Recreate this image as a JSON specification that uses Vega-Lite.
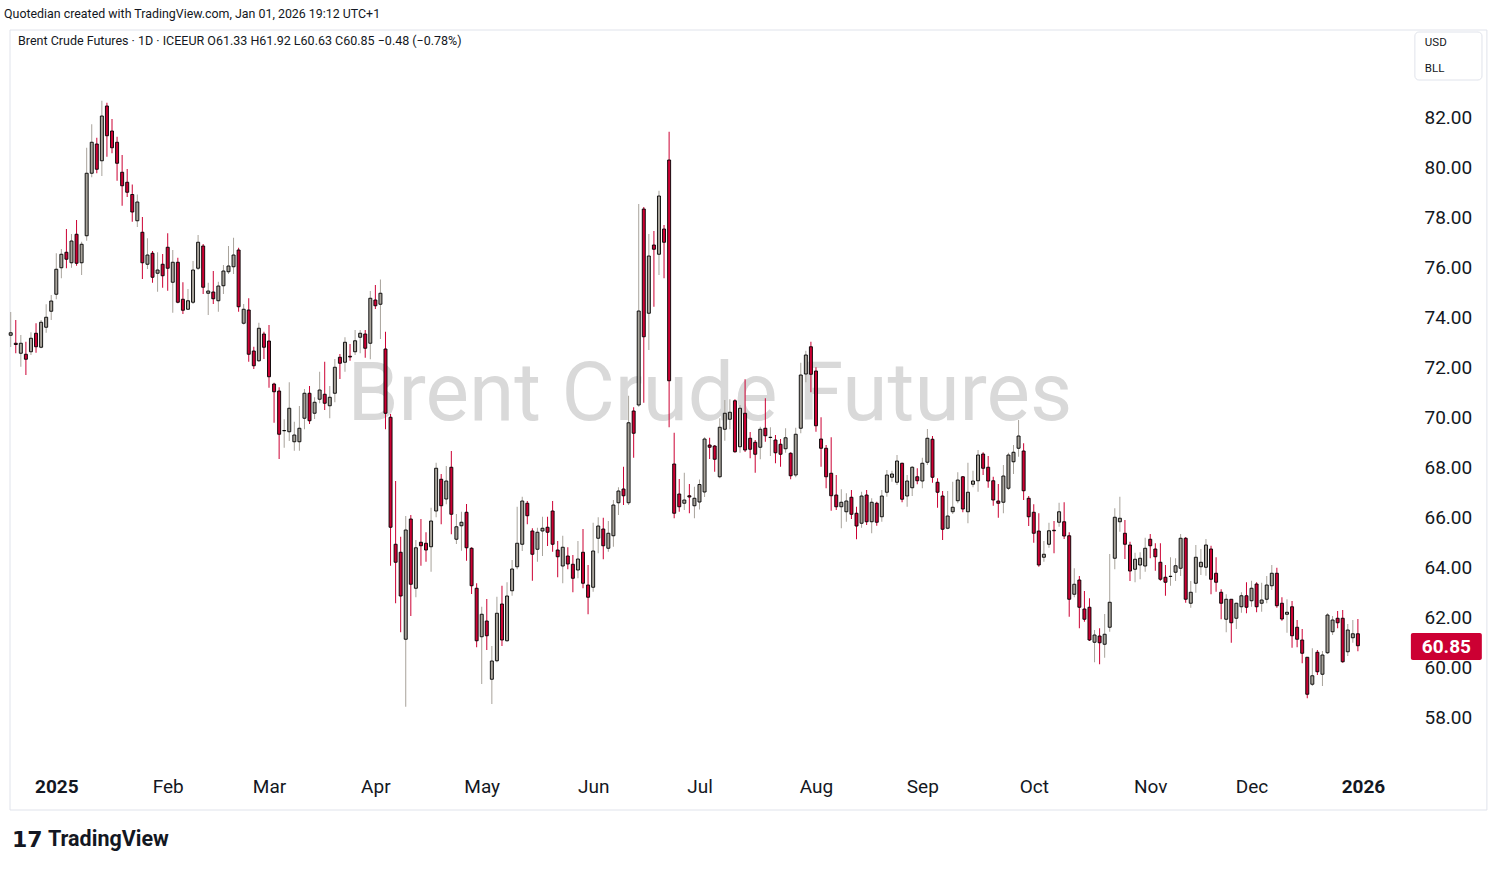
{
  "$schema": "https://vega.github.io/schema/vega-lite/v6.json",
  "width": 1395,
  "height": 740,
  "autosize": {"type": "none"},
  "padding": {"left": 10, "top": 30, "right": 92, "bottom": 101},
  "background": "#ffffff",
  "config": {"view": {"stroke": null}, "font": "Roboto"},
  "datasets": {
    "candles": [
      {"i":0,"o":73.27,"h":74.2,"l":72.8,"c":73.37},
      {"i":1,"o":72.95,"h":73.88,"l":72.55,"c":72.9},
      {"i":2,"o":72.55,"h":73.28,"l":72.01,"c":72.95},
      {"i":3,"o":72.51,"h":73.01,"l":71.68,"c":72.31},
      {"i":4,"o":72.61,"h":73.39,"l":72.48,"c":73.15},
      {"i":5,"o":73.35,"h":73.75,"l":72.57,"c":72.81},
      {"i":6,"o":72.79,"h":73.88,"l":72.75,"c":73.79},
      {"i":7,"o":73.59,"h":74.51,"l":73.37,"c":73.99},
      {"i":8,"o":74.23,"h":74.88,"l":73.88,"c":74.64},
      {"i":9,"o":74.91,"h":76.55,"l":74.71,"c":75.91},
      {"i":10,"o":75.97,"h":76.72,"l":75.55,"c":76.51},
      {"i":11,"o":76.59,"h":77.52,"l":75.95,"c":76.31},
      {"i":12,"o":76.17,"h":77.32,"l":75.97,"c":77.04},
      {"i":13,"o":77.31,"h":77.88,"l":76.05,"c":76.15},
      {"i":14,"o":76.17,"h":77.01,"l":75.68,"c":76.91},
      {"i":15,"o":77.25,"h":80.77,"l":77.05,"c":79.75},
      {"i":16,"o":79.75,"h":81.71,"l":79.59,"c":80.99},
      {"i":17,"o":80.92,"h":81.17,"l":79.75,"c":79.91},
      {"i":18,"o":80.25,"h":82.65,"l":79.64,"c":82.04},
      {"i":19,"o":82.44,"h":82.57,"l":80.41,"c":81.25},
      {"i":20,"o":81.44,"h":81.92,"l":80.55,"c":80.77},
      {"i":21,"o":80.99,"h":81.21,"l":79.45,"c":80.15},
      {"i":22,"o":79.79,"h":80.48,"l":78.45,"c":79.25},
      {"i":23,"o":79.39,"h":79.92,"l":78.8,"c":78.99},
      {"i":24,"o":78.9,"h":79.3,"l":77.81,"c":78.2},
      {"i":25,"o":77.85,"h":78.9,"l":77.6,"c":78.6},
      {"i":26,"o":77.39,"h":78.0,"l":75.52,"c":76.17},
      {"i":27,"o":76.11,"h":77.15,"l":75.92,"c":76.48},
      {"i":28,"o":76.55,"h":76.64,"l":75.37,"c":75.59},
      {"i":29,"o":75.75,"h":76.59,"l":75.01,"c":75.88},
      {"i":30,"o":76.11,"h":76.52,"l":75.17,"c":75.65},
      {"i":31,"o":76.79,"h":77.35,"l":75.05,"c":75.95},
      {"i":32,"o":75.39,"h":76.68,"l":74.17,"c":76.19},
      {"i":33,"o":76.19,"h":76.37,"l":74.55,"c":74.59},
      {"i":34,"o":74.71,"h":75.39,"l":74.12,"c":74.27},
      {"i":35,"o":74.31,"h":75.12,"l":74.28,"c":74.65},
      {"i":36,"o":74.59,"h":76.24,"l":74.52,"c":75.88},
      {"i":37,"o":75.95,"h":77.28,"l":75.88,"c":76.99},
      {"i":38,"o":76.84,"h":76.92,"l":74.92,"c":75.19},
      {"i":39,"o":74.95,"h":75.37,"l":74.08,"c":75.04},
      {"i":40,"o":75.0,"h":75.84,"l":74.52,"c":74.73},
      {"i":41,"o":74.65,"h":75.41,"l":74.21,"c":75.24},
      {"i":42,"o":75.25,"h":76.08,"l":74.92,"c":75.84},
      {"i":43,"o":75.81,"h":76.84,"l":75.72,"c":76.04},
      {"i":44,"o":76.01,"h":77.17,"l":75.72,"c":76.48},
      {"i":45,"o":76.68,"h":76.77,"l":74.21,"c":74.41},
      {"i":46,"o":73.75,"h":74.52,"l":73.7,"c":74.31},
      {"i":47,"o":74.28,"h":74.75,"l":72.21,"c":72.51},
      {"i":48,"o":72.64,"h":72.81,"l":71.92,"c":72.05},
      {"i":49,"o":72.25,"h":73.77,"l":72.2,"c":73.55},
      {"i":50,"o":73.32,"h":73.41,"l":72.32,"c":72.79},
      {"i":51,"o":73.04,"h":73.68,"l":71.17,"c":71.61},
      {"i":52,"o":71.32,"h":71.37,"l":69.77,"c":71.01},
      {"i":53,"o":71.04,"h":71.19,"l":68.32,"c":69.31},
      {"i":54,"o":69.45,"h":69.91,"l":68.77,"c":69.46},
      {"i":55,"o":69.41,"h":71.39,"l":69.04,"c":70.35},
      {"i":56,"o":69.01,"h":69.81,"l":68.65,"c":69.28},
      {"i":57,"o":69.01,"h":70.44,"l":68.65,"c":69.55},
      {"i":58,"o":69.95,"h":71.12,"l":69.51,"c":70.95},
      {"i":59,"o":70.95,"h":71.24,"l":69.72,"c":69.85},
      {"i":60,"o":70.15,"h":70.79,"l":69.92,"c":70.59},
      {"i":61,"o":70.71,"h":71.81,"l":70.55,"c":71.08},
      {"i":62,"o":70.91,"h":72.21,"l":70.28,"c":70.55},
      {"i":63,"o":70.45,"h":71.24,"l":69.95,"c":70.79},
      {"i":64,"o":70.95,"h":72.32,"l":70.59,"c":71.99},
      {"i":65,"o":72.39,"h":72.52,"l":71.52,"c":72.15},
      {"i":66,"o":72.19,"h":73.19,"l":71.81,"c":72.99},
      {"i":67,"o":72.43,"h":72.92,"l":72.25,"c":72.4},
      {"i":68,"o":72.61,"h":73.48,"l":72.48,"c":73.05},
      {"i":69,"o":73.19,"h":73.48,"l":72.55,"c":73.35},
      {"i":70,"o":73.32,"h":73.48,"l":72.37,"c":72.75},
      {"i":71,"o":72.95,"h":75.04,"l":72.31,"c":74.75},
      {"i":72,"o":74.68,"h":75.28,"l":74.32,"c":74.45},
      {"i":73,"o":74.51,"h":75.5,"l":73.12,"c":74.95},
      {"i":74,"o":72.72,"h":73.41,"l":69.51,"c":70.15},
      {"i":75,"o":69.99,"h":70.12,"l":64.05,"c":65.59},
      {"i":76,"o":64.91,"h":67.44,"l":62.55,"c":64.19},
      {"i":77,"o":64.59,"h":65.21,"l":61.39,"c":62.84},
      {"i":78,"o":61.11,"h":66.04,"l":58.41,"c":65.48},
      {"i":79,"o":65.92,"h":66.08,"l":62.04,"c":63.31},
      {"i":80,"o":63.15,"h":65.08,"l":62.79,"c":64.77},
      {"i":81,"o":64.99,"h":65.92,"l":64.05,"c":64.85},
      {"i":82,"o":64.95,"h":65.39,"l":64.21,"c":64.68},
      {"i":83,"o":64.81,"h":66.37,"l":63.81,"c":65.84},
      {"i":84,"o":66.24,"h":68.17,"l":65.99,"c":67.95},
      {"i":85,"o":67.51,"h":67.72,"l":65.71,"c":66.45},
      {"i":86,"o":66.72,"h":68.04,"l":66.51,"c":67.44},
      {"i":87,"o":67.99,"h":68.64,"l":65.31,"c":66.11},
      {"i":88,"o":65.11,"h":66.12,"l":64.92,"c":65.61},
      {"i":89,"o":65.65,"h":66.21,"l":64.65,"c":65.79},
      {"i":90,"o":66.19,"h":66.52,"l":64.25,"c":64.77},
      {"i":91,"o":64.75,"h":64.79,"l":62.92,"c":63.25},
      {"i":92,"o":63.15,"h":63.35,"l":60.79,"c":61.05},
      {"i":93,"o":61.21,"h":62.41,"l":59.32,"c":62.11},
      {"i":94,"o":61.84,"h":62.72,"l":60.68,"c":61.25},
      {"i":95,"o":59.51,"h":60.84,"l":58.52,"c":60.24},
      {"i":96,"o":60.25,"h":62.81,"l":60.19,"c":62.15},
      {"i":97,"o":62.52,"h":63.25,"l":60.84,"c":61.08},
      {"i":98,"o":61.05,"h":63.39,"l":61.01,"c":62.84},
      {"i":99,"o":63.05,"h":64.28,"l":62.85,"c":63.92},
      {"i":100,"o":64.01,"h":66.41,"l":63.91,"c":64.95},
      {"i":101,"o":64.91,"h":66.81,"l":64.64,"c":66.64},
      {"i":102,"o":66.55,"h":66.64,"l":65.71,"c":66.05},
      {"i":103,"o":65.44,"h":65.55,"l":63.45,"c":64.51},
      {"i":104,"o":64.71,"h":65.57,"l":64.21,"c":65.39},
      {"i":105,"o":65.44,"h":66.01,"l":64.44,"c":65.55},
      {"i":106,"o":65.59,"h":66.01,"l":64.84,"c":65.39},
      {"i":107,"o":66.24,"h":66.64,"l":64.61,"c":64.91},
      {"i":108,"o":64.68,"h":65.04,"l":63.59,"c":64.41},
      {"i":109,"o":64.04,"h":65.25,"l":63.35,"c":64.79},
      {"i":110,"o":64.44,"h":64.79,"l":63.91,"c":64.12},
      {"i":111,"o":64.11,"h":64.48,"l":62.99,"c":63.55},
      {"i":112,"o":63.88,"h":65.04,"l":63.55,"c":64.32},
      {"i":113,"o":64.59,"h":65.52,"l":63.15,"c":63.35},
      {"i":114,"o":63.28,"h":64.08,"l":62.11,"c":62.79},
      {"i":115,"o":63.19,"h":65.77,"l":63.01,"c":64.64},
      {"i":116,"o":65.15,"h":65.99,"l":64.55,"c":65.64},
      {"i":117,"o":65.52,"h":65.97,"l":64.31,"c":64.85},
      {"i":118,"o":64.75,"h":65.84,"l":64.61,"c":65.35},
      {"i":119,"o":65.25,"h":66.68,"l":64.81,"c":66.48},
      {"i":120,"o":66.57,"h":67.19,"l":66.08,"c":67.04},
      {"i":121,"o":67.12,"h":68.01,"l":66.48,"c":66.85},
      {"i":122,"o":66.57,"h":70.85,"l":66.48,"c":69.77},
      {"i":123,"o":70.24,"h":70.39,"l":68.37,"c":69.35},
      {"i":124,"o":70.48,"h":78.52,"l":70.41,"c":74.24},
      {"i":125,"o":78.32,"h":78.4,"l":70.57,"c":73.21},
      {"i":126,"o":74.15,"h":77.32,"l":72.68,"c":76.44},
      {"i":127,"o":76.88,"h":77.44,"l":74.41,"c":76.71},
      {"i":128,"o":76.51,"h":79.05,"l":75.68,"c":78.84},
      {"i":129,"o":77.52,"h":77.68,"l":75.55,"c":76.99},
      {"i":130,"o":80.28,"h":81.41,"l":69.59,"c":71.45},
      {"i":131,"o":68.12,"h":69.37,"l":65.95,"c":66.15},
      {"i":132,"o":66.92,"h":67.52,"l":66.21,"c":66.41},
      {"i":133,"o":66.55,"h":67.77,"l":66.28,"c":66.68},
      {"i":134,"o":66.85,"h":67.32,"l":66.15,"c":66.8},
      {"i":135,"o":66.45,"h":67.21,"l":65.95,"c":66.75},
      {"i":136,"o":66.6,"h":67.5,"l":66.3,"c":67.3},
      {"i":137,"o":67.0,"h":69.19,"l":66.8,"c":69.12},
      {"i":138,"o":68.88,"h":69.17,"l":68.32,"c":68.79},
      {"i":139,"o":68.84,"h":68.88,"l":67.81,"c":68.31},
      {"i":140,"o":67.61,"h":69.95,"l":67.55,"c":69.59},
      {"i":141,"o":69.51,"h":70.68,"l":69.05,"c":70.15},
      {"i":142,"o":69.91,"h":70.71,"l":69.51,"c":70.19},
      {"i":143,"o":70.65,"h":70.71,"l":68.57,"c":68.61},
      {"i":144,"o":68.81,"h":70.48,"l":68.57,"c":70.35},
      {"i":145,"o":70.15,"h":71.51,"l":68.6,"c":68.68},
      {"i":146,"o":69.15,"h":69.4,"l":68.35,"c":68.71},
      {"i":147,"o":68.99,"h":69.08,"l":67.77,"c":68.51},
      {"i":148,"o":68.79,"h":69.61,"l":68.31,"c":69.51},
      {"i":149,"o":69.55,"h":70.75,"l":69.01,"c":69.25},
      {"i":150,"o":69.18,"h":69.59,"l":68.44,"c":69.19},
      {"i":151,"o":69.08,"h":69.28,"l":68.15,"c":68.57},
      {"i":152,"o":68.91,"h":69.12,"l":68.01,"c":68.51},
      {"i":153,"o":68.73,"h":69.55,"l":68.57,"c":69.17},
      {"i":154,"o":68.55,"h":68.59,"l":67.51,"c":67.65},
      {"i":155,"o":67.68,"h":69.57,"l":67.59,"c":69.31},
      {"i":156,"o":69.55,"h":72.17,"l":69.35,"c":71.68},
      {"i":157,"o":71.72,"h":72.65,"l":71.39,"c":72.48},
      {"i":158,"o":72.81,"h":73.01,"l":70.99,"c":71.71},
      {"i":159,"o":71.84,"h":71.99,"l":69.41,"c":69.65},
      {"i":160,"o":69.12,"h":69.99,"l":68.01,"c":68.75},
      {"i":161,"o":68.75,"h":68.88,"l":67.15,"c":67.61},
      {"i":162,"o":67.75,"h":69.19,"l":66.25,"c":66.85},
      {"i":163,"o":66.88,"h":67.68,"l":66.28,"c":66.41},
      {"i":164,"o":66.41,"h":67.11,"l":65.55,"c":66.59},
      {"i":165,"o":66.21,"h":66.95,"l":65.81,"c":66.64},
      {"i":166,"o":66.79,"h":67.08,"l":65.92,"c":66.11},
      {"i":167,"o":66.15,"h":66.41,"l":65.11,"c":65.64},
      {"i":168,"o":65.75,"h":67.01,"l":65.57,"c":66.84},
      {"i":169,"o":66.88,"h":67.08,"l":65.68,"c":65.81},
      {"i":170,"o":65.81,"h":66.75,"l":65.35,"c":66.59},
      {"i":171,"o":66.55,"h":66.61,"l":65.65,"c":65.79},
      {"i":172,"o":66.01,"h":67.08,"l":65.81,"c":66.84},
      {"i":173,"o":66.99,"h":67.88,"l":66.81,"c":67.68},
      {"i":174,"o":67.59,"h":67.85,"l":67.41,"c":67.72},
      {"i":175,"o":67.39,"h":68.48,"l":67.28,"c":68.24},
      {"i":176,"o":68.15,"h":68.17,"l":66.59,"c":66.71},
      {"i":177,"o":66.84,"h":67.68,"l":66.41,"c":67.44},
      {"i":178,"o":67.17,"h":68.04,"l":66.84,"c":67.99},
      {"i":179,"o":67.61,"h":67.95,"l":67.31,"c":67.45},
      {"i":180,"o":67.44,"h":68.37,"l":67.15,"c":68.15},
      {"i":181,"o":68.19,"h":69.52,"l":68.08,"c":69.15},
      {"i":182,"o":69.11,"h":69.24,"l":67.37,"c":67.59},
      {"i":183,"o":67.39,"h":67.55,"l":66.37,"c":66.99},
      {"i":184,"o":66.84,"h":67.04,"l":65.08,"c":65.51},
      {"i":185,"o":65.55,"h":67.04,"l":65.51,"c":66.04},
      {"i":186,"o":66.21,"h":67.41,"l":66.12,"c":66.39},
      {"i":187,"o":66.65,"h":67.79,"l":66.55,"c":67.48},
      {"i":188,"o":67.61,"h":67.64,"l":66.19,"c":66.32},
      {"i":189,"o":66.21,"h":68.17,"l":65.75,"c":66.99},
      {"i":190,"o":67.31,"h":67.85,"l":67.19,"c":67.44},
      {"i":191,"o":67.45,"h":68.68,"l":67.01,"c":68.48},
      {"i":192,"o":68.52,"h":68.59,"l":67.68,"c":67.95},
      {"i":193,"o":67.99,"h":68.44,"l":67.17,"c":67.44},
      {"i":194,"o":67.45,"h":67.61,"l":66.45,"c":66.68},
      {"i":195,"o":66.64,"h":67.32,"l":65.97,"c":66.55},
      {"i":196,"o":66.59,"h":68.08,"l":66.15,"c":67.64},
      {"i":197,"o":67.15,"h":68.57,"l":67.08,"c":68.48},
      {"i":198,"o":68.21,"h":68.88,"l":67.72,"c":68.59},
      {"i":199,"o":68.75,"h":69.88,"l":68.41,"c":69.24},
      {"i":200,"o":68.64,"h":68.95,"l":66.68,"c":67.05},
      {"i":201,"o":66.75,"h":66.84,"l":65.64,"c":66.01},
      {"i":202,"o":66.19,"h":66.51,"l":64.97,"c":65.35},
      {"i":203,"o":65.44,"h":66.15,"l":64.01,"c":64.08},
      {"i":204,"o":64.39,"h":65.04,"l":64.21,"c":64.51},
      {"i":205,"o":64.91,"h":65.77,"l":64.77,"c":65.45},
      {"i":206,"o":65.47,"h":65.84,"l":64.55,"c":65.45},
      {"i":207,"o":65.79,"h":66.57,"l":65.61,"c":66.21},
      {"i":208,"o":65.81,"h":66.59,"l":65.12,"c":65.24},
      {"i":209,"o":65.25,"h":65.39,"l":62.01,"c":62.71},
      {"i":210,"o":62.91,"h":63.95,"l":62.79,"c":63.31},
      {"i":211,"o":63.48,"h":63.64,"l":61.55,"c":62.39},
      {"i":212,"o":62.32,"h":63.04,"l":61.81,"c":61.91},
      {"i":213,"o":62.39,"h":62.75,"l":61.04,"c":61.08},
      {"i":214,"o":60.99,"h":61.48,"l":60.19,"c":61.28},
      {"i":215,"o":61.24,"h":61.55,"l":60.11,"c":60.97},
      {"i":216,"o":60.91,"h":62.12,"l":60.37,"c":61.31},
      {"i":217,"o":61.59,"h":64.52,"l":61.41,"c":62.59},
      {"i":218,"o":64.35,"h":66.35,"l":63.91,"c":65.99},
      {"i":219,"o":65.81,"h":66.81,"l":65.41,"c":65.95},
      {"i":220,"o":65.35,"h":65.88,"l":64.32,"c":64.91},
      {"i":221,"o":64.88,"h":65.01,"l":63.44,"c":63.84},
      {"i":222,"o":63.91,"h":64.57,"l":63.39,"c":64.31},
      {"i":223,"o":64.08,"h":64.59,"l":63.51,"c":64.35},
      {"i":224,"o":64.04,"h":65.17,"l":63.81,"c":64.75},
      {"i":225,"o":65.11,"h":65.32,"l":64.35,"c":64.85},
      {"i":226,"o":64.72,"h":64.95,"l":63.85,"c":64.41},
      {"i":227,"o":64.19,"h":64.95,"l":63.45,"c":63.51},
      {"i":228,"o":63.59,"h":64.08,"l":62.85,"c":63.39},
      {"i":229,"o":63.62,"h":64.39,"l":63.25,"c":63.63},
      {"i":230,"o":63.79,"h":64.35,"l":63.44,"c":64.05},
      {"i":231,"o":63.95,"h":65.32,"l":63.64,"c":65.15},
      {"i":232,"o":65.15,"h":65.2,"l":62.57,"c":62.71},
      {"i":233,"o":62.55,"h":63.44,"l":62.37,"c":62.99},
      {"i":234,"o":63.35,"h":64.88,"l":62.97,"c":64.39},
      {"i":235,"o":64.01,"h":64.72,"l":63.68,"c":64.19},
      {"i":236,"o":63.99,"h":65.12,"l":63.65,"c":64.88},
      {"i":237,"o":64.72,"h":64.85,"l":62.91,"c":63.51},
      {"i":238,"o":63.75,"h":64.39,"l":63.01,"c":63.39},
      {"i":239,"o":62.99,"h":63.11,"l":61.91,"c":62.55},
      {"i":240,"o":61.91,"h":62.91,"l":61.39,"c":62.71},
      {"i":241,"o":62.71,"h":62.71,"l":60.97,"c":61.77},
      {"i":242,"o":61.95,"h":62.57,"l":61.52,"c":62.55},
      {"i":243,"o":62.41,"h":62.99,"l":62.17,"c":62.85},
      {"i":244,"o":62.85,"h":63.39,"l":62.15,"c":62.39},
      {"i":245,"o":62.65,"h":63.45,"l":62.41,"c":63.15},
      {"i":246,"o":63.32,"h":63.39,"l":62.19,"c":62.41},
      {"i":247,"o":62.55,"h":63.37,"l":62.21,"c":62.68},
      {"i":248,"o":62.71,"h":63.64,"l":62.55,"c":63.28},
      {"i":249,"o":63.25,"h":64.08,"l":63.08,"c":63.75},
      {"i":250,"o":63.75,"h":63.97,"l":62.37,"c":62.45},
      {"i":251,"o":62.55,"h":62.79,"l":61.85,"c":61.92},
      {"i":252,"o":62.11,"h":62.71,"l":61.37,"c":62.19},
      {"i":253,"o":62.41,"h":62.64,"l":60.77,"c":61.25},
      {"i":254,"o":61.59,"h":61.88,"l":60.79,"c":61.11},
      {"i":255,"o":61.08,"h":61.52,"l":60.15,"c":60.55},
      {"i":256,"o":60.39,"h":60.39,"l":58.75,"c":58.91},
      {"i":257,"o":59.31,"h":60.75,"l":59.24,"c":59.65},
      {"i":258,"o":60.59,"h":60.68,"l":59.68,"c":59.81},
      {"i":259,"o":59.71,"h":60.64,"l":59.24,"c":60.48},
      {"i":260,"o":60.57,"h":62.15,"l":60.52,"c":62.08},
      {"i":261,"o":61.41,"h":62.04,"l":61.28,"c":61.88},
      {"i":262,"o":61.95,"h":62.24,"l":61.55,"c":61.77},
      {"i":263,"o":61.95,"h":62.28,"l":60.17,"c":60.21},
      {"i":264,"o":60.61,"h":61.72,"l":60.44,"c":61.48},
      {"i":265,"o":61.17,"h":61.88,"l":60.97,"c":61.33},
      {"i":266,"o":61.33,"h":61.92,"l":60.63,"c":60.85}
    ]
  },
  "layer": [
    {
      "data": {"values": [{"t": "frame"}]},
      "mark": {"type": "rect", "fillOpacity": 0, "stroke": "#e0e3eb", "strokeWidth": 1},
      "encoding": {
        "x": {"datum": -0.14, "type": "quantitative", "scale": {"domain": [-0.14, 275.3], "nice": false, "zero": false, "padding": 0}, "axis": {
          "orient": "bottom", "values": [9, 31, 51, 72, 93, 115, 136, 159, 180, 202, 225, 245, 267],
          "labelExpr": "datum.value==9?'2025':datum.value==31?'Feb':datum.value==51?'Mar':datum.value==72?'Apr':datum.value==93?'May':datum.value==115?'Jun':datum.value==136?'Jul':datum.value==159?'Aug':datum.value==180?'Sep':datum.value==202?'Oct':datum.value==225?'Nov':datum.value==245?'Dec':'2026'",
          "labelFontWeight": {"condition": {"test": "datum.value == 9 || datum.value == 267", "value": "bold"}, "value": "normal"},
          "grid": false, "domain": false, "ticks": false, "labelFlush": false, "labelOverlap": false,
          "labelFontSize": 19, "labelColor": "#131722", "labelPadding": 7, "title": null
        }},
        "x2": {"datum": 291.47},
        "y": {"datum": 85.48, "type": "quantitative", "scale": {"domain": [55.88, 85.48], "nice": false, "zero": false, "padding": 0}, "axis": {
          "orient": "right", "values": [58, 60, 62, 64, 66, 68, 70, 72, 74, 76, 78, 80, 82], "format": ".2f",
          "grid": false, "domain": false, "ticks": false, "labelFontSize": 19, "labelColor": "#131722",
          "labelPadding": 19, "labelAlign": "left", "title": null
        }},
        "y2": {"datum": 54.28}
      }
    },
    {
      "data": {"values": [{"t": "Brent Crude Futures"}]},
      "mark": {"type": "text", "fontSize": 82, "color": "#d9d9d9", "align": "center", "baseline": "middle"},
      "encoding": {"x": {"datum": 138.06}, "y": {"datum": 70.88}, "text": {"field": "t"}}
    },
    {
      "data": {"name": "candles"},
      "mark": {"type": "rule", "strokeWidth": 1},
      "encoding": {
        "x": {"field": "i", "type": "quantitative"},
        "y": {"field": "l", "type": "quantitative"},
        "y2": {"field": "h"},
        "color": {"condition": {"test": "datum.c < datum.o", "value": "#cc0033"}, "value": "#a8a39b"}
      }
    },
    {
      "data": {"name": "candles"},
      "mark": {"type": "bar", "width": 3, "stroke": "#000000", "strokeWidth": 0.9},
      "encoding": {
        "x": {"field": "i", "type": "quantitative"},
        "y": {"field": "o", "type": "quantitative"},
        "y2": {"field": "c"},
        "fill": {"condition": {"test": "datum.c < datum.o", "value": "#cc0033"}, "value": "#a8a39b"}
      }
    },
    {
      "data": {"values": [{"t": "Brent Crude Futures · 1D · ICEEUR  O61.33 H61.92 L60.63 C60.85 −0.48 (−0.78%)"}]},
      "mark": {"type": "text", "fontSize": 12.5, "color": "#131722", "align": "left", "baseline": "middle"},
      "encoding": {"x": {"datum": 1.44}, "y": {"datum": 85.04}, "text": {"field": "t"}}
    },
    {
      "data": {"values": [{"t": "Quotedian created with TradingView.com, Jan 01, 2026 19:12 UTC+1"}]},
      "mark": {"type": "text", "fontSize": 12.4, "color": "#131722", "align": "left", "baseline": "middle"},
      "encoding": {"x": {"datum": -1.32}, "y": {"datum": 86.12}, "text": {"field": "t"}}
    },
    {
      "data": {"values": [{"t": "box"}]},
      "mark": {"type": "rect", "fill": "#ffffff", "stroke": "#e0e3eb", "strokeWidth": 1, "cornerRadius": 4},
      "encoding": {"x": {"datum": 277.25}, "x2": {"datum": 290.5}, "y": {"datum": 85.4}, "y2": {"datum": 83.48}}
    },
    {
      "data": {"values": [{"t": "USD", "p": 84.96}, {"t": "BLL", "p": 83.92}]},
      "mark": {"type": "text", "fontSize": 11.5, "color": "#131722", "align": "left", "baseline": "middle"},
      "encoding": {"x": {"datum": 279.22}, "y": {"field": "p", "type": "quantitative"}, "text": {"field": "t"}}
    },
    {
      "data": {"values": [{"t": "last"}]},
      "mark": {"type": "rect", "fill": "#cc0033", "cornerRadius": 2},
      "encoding": {"x": {"datum": 276.46}, "x2": {"datum": 290.47}, "y": {"datum": 61.36}, "y2": {"datum": 60.28}}
    },
    {
      "data": {"values": [{"t": "60.85", "p": 60.82}]},
      "mark": {"type": "text", "fontSize": 19, "fontWeight": "bold", "color": "#ffffff", "align": "center", "baseline": "middle"},
      "encoding": {"x": {"datum": 283.47}, "y": {"field": "p", "type": "quantitative"}, "text": {"field": "t"}}
    },
    {
      "data": {"values": [{"t": "17"}]},
      "mark": {"type": "text", "font": "DejaVu Sans", "fontSize": 22, "fontWeight": "bold", "color": "#131722", "align": "left", "baseline": "middle"},
      "encoding": {"x": {"datum": 0.26}, "y": {"datum": 53.08}, "text": {"field": "t"}}
    },
    {
      "data": {"values": [{"t": "TradingView"}]},
      "mark": {"type": "text", "fontSize": 21.5, "fontWeight": "bold", "color": "#131722", "align": "left", "baseline": "middle"},
      "encoding": {"x": {"datum": 7.36}, "y": {"datum": 53.08}, "text": {"field": "t"}}
    }
  ]
}
